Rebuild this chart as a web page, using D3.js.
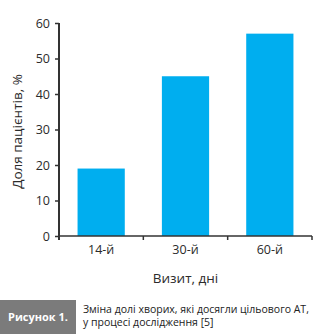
<!DOCTYPE html>
<html>
<head>
<meta charset="utf-8">
<script src="https://cdn.jsdelivr.net/npm/d3@7/dist/d3.min.js"></script>
<style>
  html, body { margin: 0; padding: 0; background: #fff; }
  svg { display: block; font-family: "Open Sans", "Noto Sans", sans-serif; }
</style>
</head>
<body>
<svg id="chart" width="324" height="334"></svg>
<script>
// Share of patients reaching target BP at each visit
const visits = ["14-й", "30-й", "60-й"];
const shares = [19, 45, 57];
const yTicks = [0, 10, 20, 30, 40, 50, 60];

const yTitle = "Доля пацієнтів, %";
const xTitle = "Визит, дні";
const figLabel = "Рисунок 1.";
const captionLines = ["Зміна долі хворих, які досягли цільового АТ,", "у процесі дослідження [5]"];

const svg = d3.select("#chart");
const m = { left: 59, right: 12, top: 23, bottom: 98 };
const W = 324, H = 334;
const axisColor = "#333";
const textColor = "#2b2b2b";

const x = d3.scaleBand().domain(visits).range([m.left, W - m.right]).paddingInner(0.44).paddingOuter(0.22);
const y = d3.scaleLinear().domain([0, 60]).range([H - m.bottom - 0.5 + 0.5 - 0, m.top]);

// bars
svg.append("g").selectAll("rect").data(visits).join("rect")
  .attr("x", d => x(d))
  .attr("width", x.bandwidth())
  .attr("y", (d, i) => y(shares[i]))
  .attr("height", (d, i) => y(0) - y(shares[i]))
  .attr("fill", "#00aeef");

// y axis
const yAxis = svg.append("g").attr("transform", `translate(${m.left},0)`)
  .call(d3.axisLeft(y).tickValues(yTicks).tickSize(4).tickPadding(5).tickSizeOuter(0));
yAxis.select(".domain").attr("stroke", axisColor).attr("stroke-width", 2)
  .attr("d", `M0,${y(60)}V${y(0) + 4}`);
yAxis.selectAll(".tick line").attr("stroke", axisColor).attr("stroke-width", 1.5);
yAxis.selectAll(".tick text").attr("fill", textColor).style("font-size", "12.5px")
  .style("font-family", "'Open Sans', sans-serif");

// x axis with ticks at band boundaries
const xAxisG = svg.append("g").attr("transform", `translate(0,${y(0)})`);
xAxisG.append("line").attr("x1", m.left).attr("x2", W - m.right)
  .attr("stroke", axisColor).attr("stroke-width", 1.5);
const step = x.step();
const bounds = visits.map((d, i) => x(d) + x.bandwidth() + (step - x.bandwidth()) / 2);
xAxisG.selectAll("line.bt").data(bounds).join("line").attr("class", "bt")
  .attr("x1", d => d).attr("x2", d => d).attr("y1", 0).attr("y2", 4)
  .attr("stroke", axisColor).attr("stroke-width", 1.5);
xAxisG.selectAll("text").data(visits).join("text")
  .attr("x", d => x(d) + x.bandwidth() / 2).attr("y", 17.5)
  .attr("text-anchor", "middle").attr("fill", textColor)
  .style("font-size", "12.5px").text(d => d);

// axis titles
svg.append("text").attr("transform", `translate(22,${(y(0) + y(60)) / 2 + 2}) rotate(-90)`)
  .attr("text-anchor", "middle").attr("fill", textColor).style("font-size", "13.5px").text(yTitle);
svg.append("text").attr("x", (m.left + W - m.right) / 2).attr("y", 283)
  .attr("text-anchor", "middle").attr("fill", textColor).style("font-size", "13.5px").text(xTitle);

// figure caption
svg.append("rect").attr("x", 0).attr("y", 300).attr("width", 76).attr("height", 34).attr("fill", "#7b7b7b");
svg.append("text").attr("x", 8).attr("y", 321).attr("fill", "#fff")
  .style("font-size", "11px").style("font-weight", "bold").text(figLabel);
svg.append("g").selectAll("text").data(captionLines).join("text")
  .attr("x", 83).attr("y", (d, i) => 313 + i * 13).attr("fill", "#222")
  .style("font-size", "10.5px").text(d => d);
</script>
</body>
</html>
